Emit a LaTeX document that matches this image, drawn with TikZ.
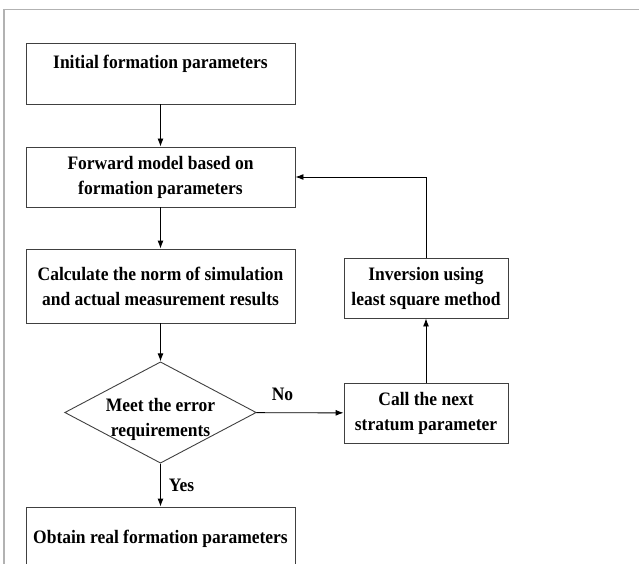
\documentclass[tikz,border=0pt]{standalone}
\usepackage{fontspec}
\setmainfont{Liberation Serif}[FakeStretch=0.92]
\usetikzlibrary{arrows.meta,shapes.geometric}
\begin{document}
\begin{tikzpicture}[x=1pt,y=-1pt,>={Latex[length=8pt,width=6pt]},
  line width=0.9pt,
  txt/.style={font=\fontsize{19}{25}\selectfont\bfseries},
  box/.style={txt,draw=black!75,align=center,inner sep=0pt,minimum width=269pt,minimum height=60pt},
  sbox/.style={box,minimum width=164pt},
  dia/.style={txt,draw=black!75,diamond,align=center,inner xsep=0pt,inner ysep=-7pt,
    text height=52.5pt,text depth=5pt,
    minimum width=191pt,minimum height=101pt,aspect=1.89},
  lab/.style={txt,inner sep=2pt}]
\useasboundingbox (0,0) rectangle (639,564);
% frame of the figure
\draw[black!30,line width=1.2pt] (4,564) -- (4,9.5) -- (639,9.5);
\path
(160.5,73.5)  node[box,text height=26pt,text depth=35pt] (init) {Initial formation parameters}
(160.5,177)   node[box] (fwd) {Forward model based on\\formation parameters}
(160.5,286)   node[box,minimum height=74pt] (calc) {Calculate the norm of simulation\\and actual measurement results}
(160.5,412.5) node[dia] (dec) {Meet the error\\requirements}
(160.5,537.5) node[box,minimum height=61pt,text height=36.5pt,text depth=24.5pt] (obtain) {Obtain real formation parameters}
(426,413)     node[sbox] (call) {Call the next\\stratum parameter}
(426,288)     node[sbox] (inv) {Inversion using\\least square method};
\draw[->] (init)--(fwd);
\draw[->] (fwd)--(calc);
\draw[->] (calc)--(dec);
\draw[->] (dec)--(obtain) node[lab,pos=.5,right=6pt]{Yes};
\draw[->] (dec)--(call) node[lab,pos=.3,above=10pt]{No};
\draw[->] (call)--(inv);
\draw[->] (inv.north) |- (fwd.east);
\end{tikzpicture}
\end{document}
